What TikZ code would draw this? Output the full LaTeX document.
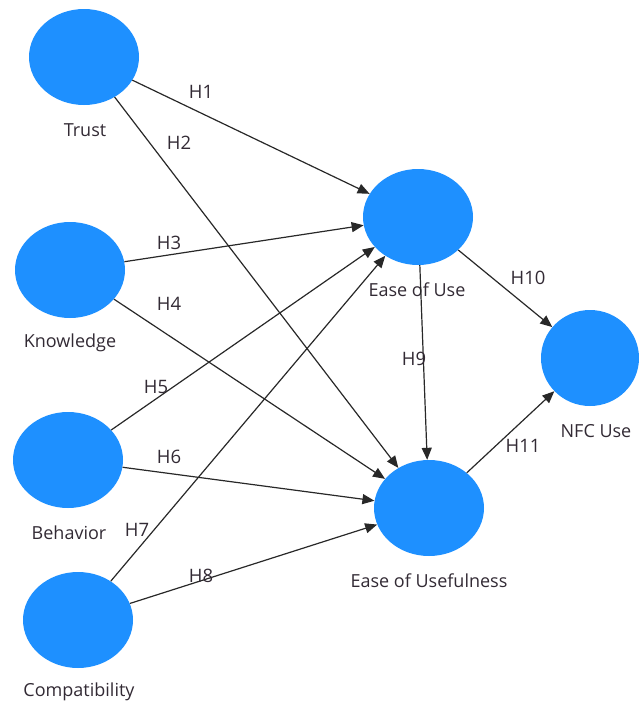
\documentclass[tikz,border=0pt]{standalone}
\usepackage{fontspec}
\setmainfont{Open Sans}
\usetikzlibrary{arrows.meta,shapes.geometric}
\definecolor{construct}{RGB}{30,144,255}
\definecolor{pathgray}{RGB}{40,40,40}
\definecolor{labelink}{RGB}{50,42,52}
\tikzset{
    latent/.style={ellipse,fill=construct,draw=none,minimum width=110pt,minimum height=96pt,inner sep=0pt},
    latentname/.style={font=\fontsize{18}{20}\selectfont,text=labelink,inner sep=0pt},
    pathvec/.style={->,line width=1.2pt,pathgray},
    hyplabel/.style={font=\fontsize{18.5}{20}\selectfont,text=labelink,inner sep=0pt}
}

\begin{document}
\begin{tikzpicture}[x=1pt,y=-1pt,>={Triangle[length=12pt,width=10pt]}]
    \useasboundingbox (0,0) rectangle (638,702);
    % Exogenous constructs
    \node[latent] (trust) at (84,57) {};
    \node[latent] (knowledge) at (70,270) {};
    \node[latent] (behavior) at (68,460) {};
    \node[latent] (compat) at (78,620) {};
    % Endogenous constructs
    \node[latent] (easeuse) at (418,217) {};
    \node[latent] (easeusef) at (429,508) {};
    \node[latent,minimum width=98pt] (nfcuse) at (590,358) {};
    % Construct names
    \node[latentname] (trustname) at (85,130) {Trust};
    \node[latentname] (knowledgename) at (70,343) {Knowledge};
    \node[latentname] (behaviorname) at (69,533) {Behavior};
    \node[latentname] (compatname) at (79,692) {Compatibility};
    \node[latentname] (easeusename) at (417,290) {Ease of Use};
    \node[latentname] (easeusefname) at (429,581) {Ease of Usefulness};
    \node[latentname] (nfcusename) at (596,431) {NFC Use};
    % Paths
    \draw[pathvec] (trust) -- (easeuse);
    \draw[pathvec] (trust) -- (easeusef);
    \draw[pathvec] (knowledge) -- (easeuse);
    \draw[pathvec] (knowledge) -- (easeusef);
    \draw[pathvec] (behavior) -- (easeuse);
    \draw[pathvec] (behavior) -- (easeusef);
    \draw[pathvec] (compat) -- (easeuse);
    \draw[pathvec] (compat) -- (easeusef);
    \draw[pathvec] (easeuse) -- (easeusef);
    \draw[pathvec] (easeuse) -- (nfcuse);
    \draw[pathvec] (easeusef) -- (nfcuse);
    % Hypotheses
    \node[hyplabel] (h1) at (201,92) {H1};
    \node[hyplabel] (h2) at (179,143) {H2};
    \node[hyplabel] (h3) at (169,243) {H3};
    \node[hyplabel] (h4) at (169,304) {H4};
    \node[hyplabel] (h5) at (156,387) {H5};
    \node[hyplabel] (h6) at (169,457) {H6};
    \node[hyplabel] (h7) at (137,530) {H7};
    \node[hyplabel] (h8) at (201,576) {H8};
    \node[hyplabel] (h9) at (414,359) {H9};
    \node[hyplabel] (h10) at (528,278) {H10};
    \node[hyplabel] (h11) at (523,446) {H11};
\end{tikzpicture}
\end{document}
